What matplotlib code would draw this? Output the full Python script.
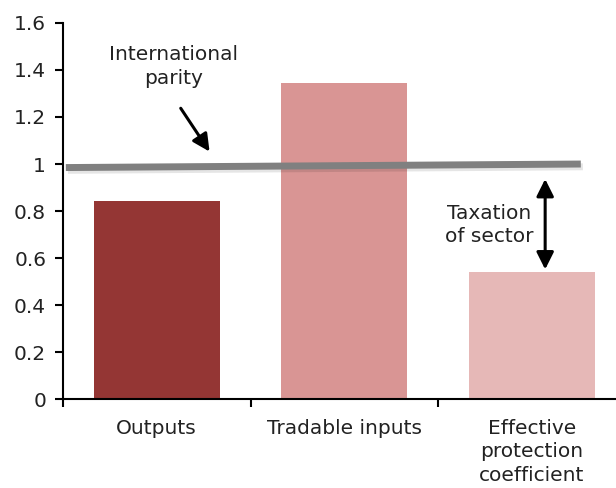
import numpy as np
import matplotlib
matplotlib.use("Agg")
import matplotlib.pyplot as plt
import matplotlib.patheffects as pe

plt.rcParams['font.family'] = ['DejaVu Sans']

categories = ["Outputs", "Tradable inputs", "Effective\nprotection\ncoefficient"]
values = [0.843, 1.345, 0.54]
colors = ["#943634", "#D99594", "#E6B8B7"]
parity_x = [-0.484, 2.26]
parity_y = [0.985, 1.0]
yticks = [0, 0.2, 0.4, 0.6, 0.8, 1, 1.2, 1.4, 1.6]

fs = 14.5
txtcol = "#222222"

fig = plt.figure(figsize=(6.16, 4.88), dpi=100)
ax = fig.add_axes([0.102, 0.182, 0.914, 0.771])

x = np.arange(len(categories))
ax.bar(x, values, width=0.67, color=colors, zorder=2)

# International parity line with a soft shadow
ax.plot(parity_x, parity_y, color="#808080", lw=5, solid_capstyle="butt", zorder=3,
        path_effects=[pe.SimpleLineShadow(offset=(1.5, -2), alpha=0.1), pe.Normal()])

ax.annotate("", xy=(0.29, 1.043), xytext=(0.12, 1.247),
            arrowprops=dict(arrowstyle="-|>", color="black", lw=2.2, mutation_scale=26))
ax.text(0.09, 1.415, "International\nparity", ha="center", va="center", fontsize=fs,
        color=txtcol, linespacing=1.3)

ax.annotate("", xy=(2.07, 0.54), xytext=(2.07, 0.948),
            arrowprops=dict(arrowstyle="<|-|>", color="black", lw=2.2, mutation_scale=26))
ax.text(1.77, 0.74, "Taxation\nof sector", ha="center", va="center", fontsize=fs,
        color=txtcol, linespacing=1.3)

ax.set_xlim(-0.5, 2.5)
ax.set_ylim(0, 1.6)
ax.set_yticks(yticks)
ax.set_yticklabels([f"{t:g}" for t in yticks], fontsize=fs, color=txtcol)
ax.set_xticks(x)
ax.set_xticklabels(categories, fontsize=fs, linespacing=1.3, color=txtcol)
ax.tick_params(axis="x", length=0, pad=14)
ax.set_xticks([-0.5, 0.5, 1.5, 2.5], minor=True)
ax.tick_params(axis="x", which="minor", length=6, width=1.5, direction="out")
ax.tick_params(axis="y", length=6, width=1.5, direction="out", pad=6)
for s in ["top", "right"]:
    ax.spines[s].set_visible(False)
for s in ["left", "bottom"]:
    ax.spines[s].set_linewidth(1.5)

fig.savefig("out.png", dpi=100)
